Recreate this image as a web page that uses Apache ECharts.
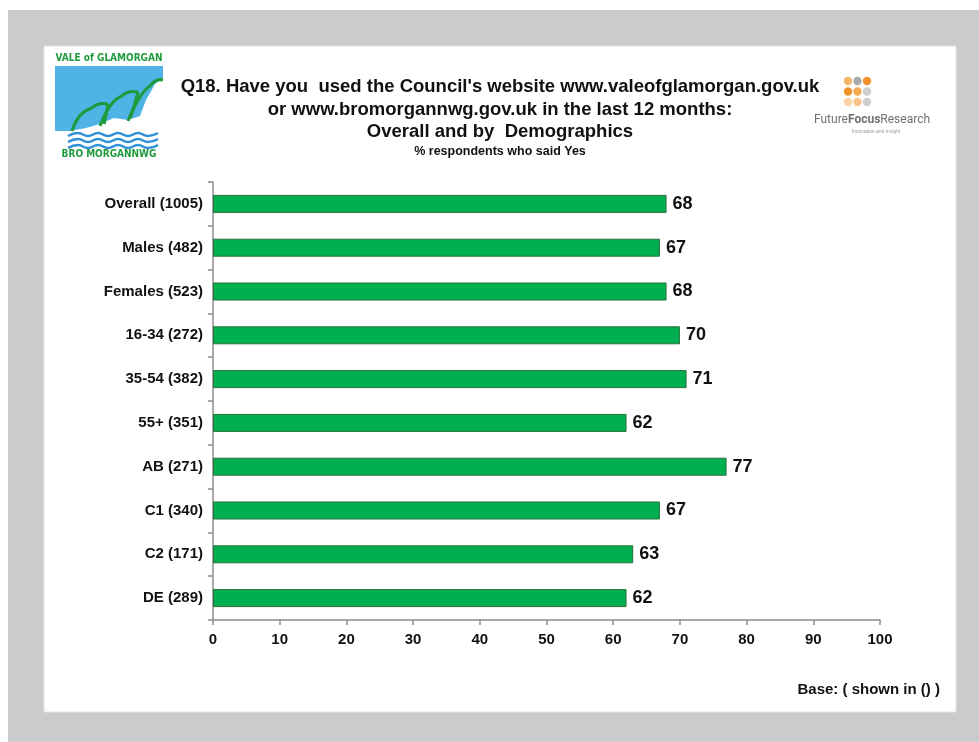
<!DOCTYPE html>
<html>
<head>
<meta charset="utf-8">
<script src="https://cdn.jsdelivr.net/npm/echarts@6/dist/echarts.min.js"></script>
<style>
  html, body { margin: 0; padding: 0; background: #ffffff; }
  #chart { width: 979px; height: 742px; }
</style>
</head>
<body>
<div id="chart"></div>
<script>
// Survey groups (base sizes in brackets) and % who said Yes
const categories = ['Overall (1005)', 'Males (482)', 'Females (523)', '16-34 (272)', '35-54 (382)',
  '55+ (351)', 'AB (271)', 'C1 (340)', 'C2 (171)', 'DE (289)'];
const yesPercent = [68, 67, 68, 70, 71, 62, 77, 67, 63, 62];
const xTicks = [0, 10, 20, 30, 40, 50, 60, 70, 80, 90, 100];

const titleLines = [
  "Q18. Have you  used the Council's website www.valeofglamorgan.gov.uk",
  'or www.bromorgannwg.gov.uk in the last 12 months:',
  'Overall and by  Demographics'
];
const subtitle = '% respondents who said Yes';
const baseNote = 'Base: ( shown in () )';

const FONT = 'Arial, "Liberation Sans", sans-serif';
const chart = echarts.init(document.getElementById('chart'));

// Council logo pieces
const green = '#1f9a3c';
const blue = '#4fb3e6';
function hook(x0, y0, x1, y1, cx, cy) {
  return { type: 'bezierCurve', shape: { x1: x0, y1: y0, x2: x1, y2: y1, cpx1: cx, cpy1: cy },
    style: { stroke: green, lineWidth: 3.2, fill: null } };
}
function wave(y) {
  return { type: 'polyline', shape: { points: [[68, y], [78, y - 3], [88, y], [98, y - 3], [108, y], [118, y - 3], [128, y], [138, y - 3], [148, y], [158, y - 3]], smooth: 0.5 },
    style: { stroke: '#2f8fd8', lineWidth: 2.6, fill: null } };
}

// Future Focus dot grid
const dotColors = [
  ['#f7b567', '#a9a9a9', '#f2922a'],
  ['#f2922a', '#f6a84e', '#cfcfcf'],
  ['#fbd3a6', '#f9c58d', '#cfcfcf']
];
const dots = [];
dotColors.forEach((row, r) => row.forEach((c, k) => {
  dots.push({ type: 'circle', shape: { cx: 848 + k * 9.5, cy: 81 + r * 10.5, r: 4.2 }, style: { fill: c } });
}));

const graphics = [
  { type: 'rect', z: -10, shape: { x: 8, y: 10, width: 971, height: 732 }, style: { fill: '#cbcbcb' } },
  { type: 'rect', z: -9, shape: { x: 44, y: 46, width: 912, height: 666 }, style: { fill: '#ffffff', stroke: '#e4e4e4', lineWidth: 1 } },

  // council logo
  { type: 'text', style: { x: 109, y: 58, text: 'VALE of GLAMORGAN', fill: green, font: 'bold 10px "DejaVu Sans Condensed", Arial', align: 'center', verticalAlign: 'middle' } },
  { type: 'polygon', shape: { points: [[55, 66], [163, 66], [163, 78], [155, 84], [146, 100], [140, 116], [128, 120], [114, 118], [100, 124], [86, 128], [70, 131], [55, 131]] }, style: { fill: blue } },
  hook(72, 131, 92, 108, 78, 112),
  hook(92, 108, 108, 104, 98, 102),
  hook(100, 126, 122, 96, 110, 100),
  hook(122, 96, 138, 92, 128, 90),
  hook(128, 121, 150, 86, 140, 92),
  hook(150, 86, 163, 80, 156, 78),
  hook(138, 92, 130, 118, 134, 108),
  hook(108, 104, 104, 124, 106, 116),
  wave(136), wave(142), wave(148),
  { type: 'text', style: { x: 109, y: 154, text: 'BRO MORGANNWG', fill: green, font: 'bold 10px "DejaVu Sans Condensed", Arial', align: 'center', verticalAlign: 'middle' } },

  // title block
  { type: 'text', style: { x: 500, y: 87, text: titleLines[0], fill: '#111', font: 'bold 18.5px ' + FONT, align: 'center', verticalAlign: 'middle' } },
  { type: 'text', style: { x: 500, y: 110, text: titleLines[1], fill: '#111', font: 'bold 18.5px ' + FONT, align: 'center', verticalAlign: 'middle' } },
  { type: 'text', style: { x: 500, y: 132, text: titleLines[2], fill: '#111', font: 'bold 18.5px ' + FONT, align: 'center', verticalAlign: 'middle' } },
  { type: 'text', style: { x: 500, y: 152, text: subtitle, fill: '#111', font: 'bold 12.5px ' + FONT, align: 'center', verticalAlign: 'middle' } },

  // research agency logo
  ...dots,
  { type: 'text', style: { x: 872, y: 120, fill: '#707070', align: 'center', verticalAlign: 'middle',
      text: '{a|Future}{b|Focus}{a|Research}',
      rich: { a: { fontSize: 12, fontFamily: 'Roboto, Arial', color: '#6f6f6f' },
              b: { fontSize: 12, fontFamily: 'Roboto, Arial', fontWeight: 'bold', color: '#f29526' } } } },
  { type: 'text', style: { x: 876, y: 132, text: 'Innovation and Insight', fill: '#999', font: '5px ' + FONT, align: 'center', verticalAlign: 'middle' } },

  // base note
  { type: 'text', style: { x: 940, y: 690, text: baseNote, fill: '#111', font: 'bold 15px ' + FONT, align: 'right', verticalAlign: 'middle' } }
];

chart.setOption({
  animation: false,
  backgroundColor: 'transparent',
  graphic: graphics,
  grid: { left: 213, right: 99, top: 182, bottom: 122, containLabel: false },
  xAxis: {
    type: 'value', min: xTicks[0], max: xTicks[xTicks.length - 1], interval: xTicks[1] - xTicks[0],
    axisLine: { show: true, lineStyle: { color: '#8c8c8c', width: 1.5 } },
    axisTick: { show: true, length: 5, lineStyle: { color: '#8c8c8c', width: 1.5 } },
    splitLine: { show: false },
    axisLabel: { margin: 12, color: '#111', fontWeight: 'bold', fontSize: 15, fontFamily: FONT }
  },
  yAxis: {
    type: 'category', data: categories, inverse: true,
    axisLine: { show: true, lineStyle: { color: '#8c8c8c', width: 1.5 } },
    axisTick: { show: true, length: 5, alignWithLabel: false, lineStyle: { color: '#8c8c8c', width: 1.5 } },
    axisLabel: { margin: 10, color: '#111', fontWeight: 'bold', fontSize: 15, fontFamily: FONT }
  },
  series: [{
    type: 'bar', data: yesPercent, barWidth: 18,
    itemStyle: { color: '#00b050', borderColor: '#2a6e3a', borderWidth: 1 },
    label: { show: true, position: 'right', distance: 6, color: '#111', fontWeight: 'bold', fontSize: 18, fontFamily: FONT }
  }]
});
</script>
</body>
</html>
